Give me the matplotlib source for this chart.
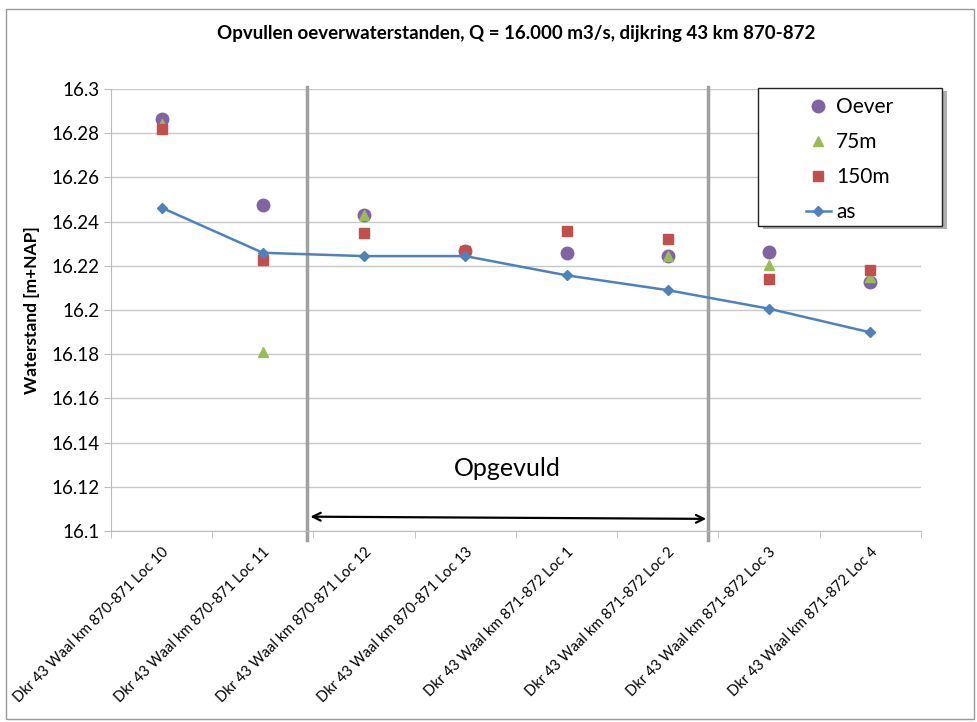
import matplotlib
matplotlib.use("Agg")
import matplotlib.pyplot as plt
import numpy as np
from matplotlib.patches import Rectangle

plt.rcParams['font.family'] = ['Lato', 'DejaVu Sans']

# data
locations = [
    "Dkr 43 Waal km 870-871 Loc 10",
    "Dkr 43 Waal km 870-871 Loc 11",
    "Dkr 43 Waal km 870-871 Loc 12",
    "Dkr 43 Waal km 870-871 Loc 13",
    "Dkr 43 Waal km 871-872 Loc 1",
    "Dkr 43 Waal km 871-872 Loc 2",
    "Dkr 43 Waal km 871-872 Loc 3",
    "Dkr 43 Waal km 871-872 Loc 4",
]
oever = [16.2864, 16.2475, 16.2430, 16.2267, 16.2257, 16.2246, 16.2264, 16.2128]
m75 = [16.2840, 16.1811, 16.2428, 16.2268, np.nan, 16.2246, 16.2204, 16.2151]
m150 = [16.2818, 16.2226, 16.2347, 16.2268, 16.2356, 16.2320, 16.2142, 16.2181]
as_line = [16.2463, 16.2259, 16.2244, 16.2244, 16.2157, 16.2090, 16.2006, 16.1899]

filled_start = 2.44   # category positions of the "Opgevuld" boundaries
filled_end = 6.40

fig = plt.figure(figsize=(9.78, 7.22), dpi=100)
ax = fig.add_axes([0.1135, 0.2645, 0.828, 0.6122])

x = np.arange(1, len(locations) + 1)
ax.plot(x, oever, linestyle='none', marker='o', markersize=9, color='#8064A2', label='Oever')
ax.plot(x, m75, linestyle='none', marker='^', markersize=7.5, color='#9BBB59', label='75m')
ax.plot(x, m150, linestyle='none', marker='s', markersize=7, color='#C0504D', label='150m')
ax.plot(x, as_line, linestyle='-', linewidth=1.8, marker='D', markersize=5, color='#4F81BD', label='as')

ax.set_xlim(0.5, len(locations) + 0.5)
ax.set_ylim(16.1, 16.3)
ax.set_yticks(np.arange(16.1, 16.3001, 0.02))
ax.set_yticklabels(['16.1', '16.12', '16.14', '16.16', '16.18', '16.2',
                    '16.22', '16.24', '16.26', '16.28', '16.3'], fontsize=13.5)
ax.yaxis.grid(True, color='#c8c8c8', linewidth=1)
ax.set_axisbelow(True)

ax.set_xticks(x)
ax.set_xticklabels(locations, rotation=45, ha='right', va='top',
                   rotation_mode='anchor', fontsize=10.5)
ax.set_xticks(np.arange(0.5, len(locations) + 1), minor=True)
ax.tick_params(axis='x', which='major', length=0, pad=10)
ax.tick_params(axis='x', which='minor', length=5, color='#bbbbbb')
ax.tick_params(axis='y', length=5, color='#bbbbbb')

for side in ['top', 'right']:
    ax.spines[side].set_visible(False)
ax.spines['left'].set_color('#bbbbbb')
ax.spines['bottom'].set_color('#bbbbbb')

ax.set_ylabel('Waterstand [m+NAP]', fontsize=12.5, fontweight='bold', labelpad=8)
ax.set_title('Opvullen oeverwaterstanden, Q = 16.000 m3/s, dijkring 43 km 870-872',
             fontsize=13.5, fontweight='bold', pad=36)

# boundaries of the filled-in stretch
for xb in [filled_start, filled_end]:
    ax.plot([xb, xb], [16.301, 16.096], color='#a0a0a0', linewidth=2.5, clip_on=False, zorder=1)
ax.annotate('', xy=(filled_start + 0.03, 16.1065), xytext=(filled_end - 0.02, 16.1055),
            arrowprops=dict(arrowstyle='<->', color='black', linewidth=1.6,
                            shrinkA=0, shrinkB=0, mutation_scale=14))
ax.text((filled_start + filled_end) / 2, 16.1285, 'Opgevuld', fontsize=18,
        ha='center', va='center')

# legend box drawn by hand (wide padding like the original)
ax.add_patch(Rectangle((0.805, 0.684), 0.227, 0.312, transform=ax.transAxes,
                       facecolor='#b0b0b0', edgecolor='none', clip_on=False, zorder=4))
ax.add_patch(Rectangle((0.799, 0.690), 0.227, 0.312, transform=ax.transAxes,
                       facecolor='white', edgecolor='#222222', linewidth=1,
                       clip_on=False, zorder=5))
leg = ax.legend(loc='upper left', bbox_to_anchor=(0.858, 0.981), fontsize=15,
                frameon=False, borderpad=0, borderaxespad=0, labelspacing=0.72,
                handlelength=1.2, handletextpad=0.25)
leg.set_zorder(6)

# outer chart border
fig.patches.append(Rectangle((0.006, 0.004), 0.99, 0.983, transform=fig.transFigure,
                             fill=False, edgecolor='#999999', linewidth=1))

fig.savefig('out.png', dpi=100)
